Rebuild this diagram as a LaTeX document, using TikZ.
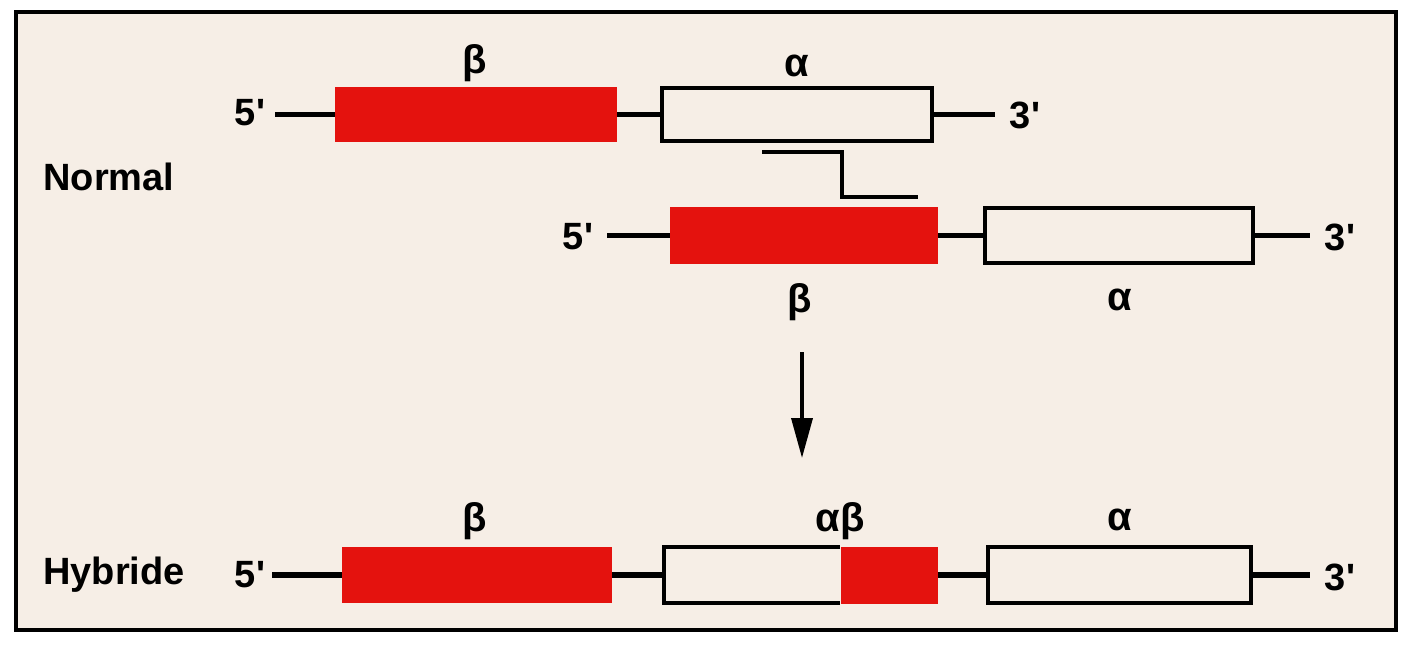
\documentclass[tikz,border=0pt]{standalone}
\usepackage{fontspec}
\setmainfont{Liberation Sans}
\usetikzlibrary{arrows.meta}
\definecolor{paper}{RGB}{246,238,230}
\definecolor{gred}{RGB}{228,18,14}
\begin{document}
\begin{tikzpicture}[x=0.5pt,y=-0.5pt,
  redbox/.style={fill=gred,draw=none,inner sep=0pt,outer sep=0pt},
  whitebox/.style={draw=black,line width=2pt,fill=none,inner sep=0pt,outer sep=0pt},
  hidbox/.style={draw=none,inner sep=0pt,outer sep=0pt},
  link/.style={line width=2.6pt},
  lbl/.style={inner sep=0pt,font=\fontsize{20pt}{24pt}\selectfont\bfseries},
  end/.style={inner sep=0pt,font=\fontsize{19pt}{22pt}\selectfont\bfseries},
  title/.style={inner sep=0pt,anchor=west,font=\fontsize{19pt}{24pt}\selectfont\bfseries}]
\useasboundingbox (0,0) rectangle (1408,644);
\fill[white] (0,0) rectangle (1408,644);
\draw[line width=1.6pt,fill=paper] (16,12) rectangle (1396,630);

% titles
\node[title] (normal) at (43,177) {Normal};
\node[title] (hybride) at (43,575) {Hybride};

% row 1
\node[end] (f1) at (250,113) {5\textquotesingle};
\coordinate (s1) at (275,114.5);
\node[redbox,minimum width=141pt,minimum height=27.5pt] (rb1) at (476,114.5) {};
\node[whitebox,minimum width=135pt,minimum height=26.5pt] (wb1) at (797,114.5) {};
\coordinate (e1) at (995,114.5);
\node[end] (t1) at (1025,115) {3\textquotesingle};
\draw[link] (s1) -- (rb1.west);
\draw[link] (rb1.east) -- (wb1.west);
\draw[link] (wb1.east) -- (e1);
\node[lbl] (lb1) at (475,63) {β};
\node[lbl] (la1) at (797,66) {α};

% crossover mark
\coordinate (c1) at (762,152);
\coordinate (c2) at (842,152);
\coordinate (c3) at (842,197);
\coordinate (c4) at (918,197);
\draw[line width=1.7pt] (c1) -- (c2) -- (c3) -- (c4);

% row 2
\node[end] (f2) at (578,237) {5\textquotesingle};
\coordinate (s2) at (607,235.5);
\node[redbox,minimum width=134pt,minimum height=28.5pt] (rb2) at (804,235.5) {};
\node[whitebox,minimum width=134pt,minimum height=27.5pt] (wb2) at (1119,235.5) {};
\coordinate (e2) at (1310,235.5);
\node[end] (t2) at (1340,237) {3\textquotesingle};
\draw[link] (s2) -- (rb2.west);
\draw[link] (rb2.east) -- (wb2.west);
\draw[link] (wb2.east) -- (e2);
\node[lbl] (lb2) at (800,302) {β};
\node[lbl] (la2) at (1120,300) {α};

% arrow
\coordinate (a1) at (802,352);
\coordinate (a2) at (802,458);
\draw[line width=1.8pt,-{Triangle[length=20pt,width=10.5pt]}] (a1) -- (a2);

% row 3
\node[end] (f3) at (250,575) {5\textquotesingle};
\coordinate (s3) at (272,575);
\node[redbox,minimum width=135pt,minimum height=28pt] (rb3) at (477,575) {};
\node[hidbox,minimum width=88pt,minimum height=28pt] (wb3) at (752,575) {};
\draw[line width=2pt] (wb3.north east) -| (wb3.south west) -- (wb3.south east);
\node[redbox,minimum width=48.5pt,minimum height=28.5pt] (rb4) at (889.5,575) {};
\node[whitebox,minimum width=131.5pt,minimum height=28pt] (wb4) at (1119.5,575) {};
\coordinate (e3) at (1310,575);
\node[end] (t3) at (1340,577) {3\textquotesingle};
\draw[link] (s3) -- (rb3.west);
\draw[link] (rb3.east) -- (wb3.west);
\draw[link] (rb4.east) -- (wb4.west);
\draw[link] (wb4.east) -- (e3);
\node[lbl] (lb3) at (475,521) {β};
\node[lbl] (lab) at (840,521) {αβ};
\node[lbl] (la3) at (1120,520) {α};
\end{tikzpicture}
\end{document}
